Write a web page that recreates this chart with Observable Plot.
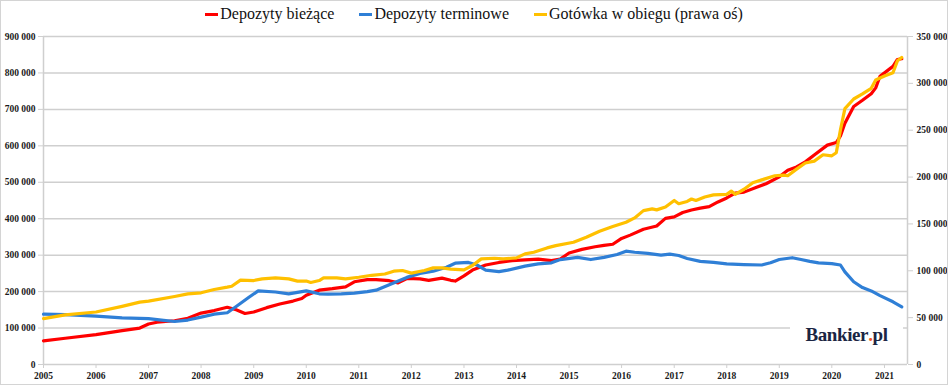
<!DOCTYPE html>
<html><head><meta charset="utf-8">
<script src="https://cdn.jsdelivr.net/npm/d3@7"></script>
<script src="https://cdn.jsdelivr.net/npm/@observablehq/plot@0.6"></script>
<style>
body{margin:0;background:#fff;}
#wrap{position:relative;width:948px;height:385px;overflow:hidden;font-family:"Liberation Serif",serif;background:#fff;}
#frame{position:absolute;left:0;top:0;width:948px;height:385px;box-sizing:border-box;border:1px solid #d4d4d4;pointer-events:none;}
#legend{position:absolute;top:3px;left:0;width:948px;display:flex;justify-content:center;gap:25px;font-size:16px;color:#111;line-height:22px;}
#legend .it{display:flex;align-items:center;}
#legend .sw{display:inline-block;width:13px;height:3px;margin-right:2px;}
#wm{position:absolute;left:790px;top:318px;width:113px;height:34px;background:#fff;display:flex;align-items:center;justify-content:center;font-family:"Liberation Serif",serif;font-weight:bold;font-size:19px;letter-spacing:-0.4px;color:#1b2543;}
#wm span{color:#f05a28;}
svg{position:absolute;left:0;top:0;}
</style></head>
<body>
<div id="wrap">
  <div id="chart"></div>
  <div id="legend"></div>
  <div id="wm">Bankier<span>.</span>pl</div>
  <div id="frame"></div>
</div>
<script>
// ---- data (mln zł) ----
const seriesNames = ["Depozyty bieżące", "Depozyty terminowe", "Gotówka w obiegu (prawa oś)"];
const seriesColors = ["#ff0000", "#2f7fd6", "#ffc000"];

const redMonths = ["2005-01","2005-06","2006-01","2006-07","2006-11","2007-01","2007-03","2007-07","2007-10","2008-01","2008-04","2008-07","2008-09","2008-11","2009-01","2009-04","2009-07","2009-10","2009-12","2010-01","2010-04","2010-07","2010-10","2010-12","2011-03","2011-05","2011-08","2011-10","2011-12","2012-03","2012-05","2012-08","2012-10","2012-11","2013-01","2013-03","2013-06","2013-09","2013-12","2014-03","2014-06","2014-09","2014-11","2015-01","2015-04","2015-07","2015-09","2015-11","2016-01","2016-03","2016-06","2016-09","2016-11","2017-01","2017-03","2017-05","2017-07","2017-09","2017-11","2018-01","2018-03","2018-05","2018-08","2018-10","2019-01","2019-03","2019-05","2019-07","2019-09","2019-12","2020-02","2020-03","2020-04","2020-06","2020-08","2020-10","2020-11","2020-12","2021-03","2021-04","2021-05"];
const redValues = [65000,72000,82000,93000,100000,111000,116000,120000,127000,141000,148000,157000,150000,140000,144000,156000,166000,174000,181000,190000,204000,208000,213000,227000,233000,233000,230000,224000,236000,235000,231000,237000,231000,229000,243000,259000,273000,280000,285000,287000,289000,285000,289000,306000,316000,323000,327000,330000,346000,355000,371000,380000,401000,405000,417000,424000,429000,433000,446000,457000,470000,473000,487000,496000,515000,533000,542000,556000,575000,602000,609000,627000,662000,708000,725000,743000,759000,791000,818000,837000,839000];

const blueMonths = ["2005-01","2005-06","2006-01","2006-07","2007-01","2007-04","2007-07","2007-10","2008-01","2008-04","2008-07","2008-09","2008-12","2009-02","2009-06","2009-09","2010-01","2010-04","2010-06","2010-09","2010-12","2011-03","2011-05","2011-08","2011-12","2012-03","2012-06","2012-09","2012-11","2013-02","2013-04","2013-06","2013-09","2013-11","2014-03","2014-06","2014-09","2014-11","2015-03","2015-06","2015-09","2015-12","2016-02","2016-04","2016-07","2016-10","2016-12","2017-02","2017-04","2017-07","2017-10","2018-01","2018-05","2018-09","2018-11","2019-01","2019-04","2019-06","2019-08","2019-10","2020-01","2020-03","2020-04","2020-06","2020-08","2020-10","2020-12","2021-03","2021-05"];
const blueValues = [138000,137000,133000,128000,126000,122000,118000,122000,130000,138000,142000,159000,185000,202000,199000,194000,202000,194000,193000,194000,196000,200000,204000,219000,239000,250000,256000,267000,278000,280000,273000,259000,255000,259000,270000,276000,279000,288000,294000,288000,294000,302000,311000,308000,305000,300000,303000,299000,291000,283000,280000,276000,274000,273000,279000,288000,293000,288000,283000,279000,277000,273000,254000,227000,211000,202000,189000,172000,158000];

const goldMonths = ["2005-01","2005-06","2006-01","2006-07","2006-11","2007-01","2007-07","2007-10","2008-01","2008-04","2008-07","2008-08","2008-10","2009-01","2009-03","2009-06","2009-09","2009-11","2010-01","2010-02","2010-04","2010-05","2010-08","2010-10","2011-01","2011-04","2011-07","2011-09","2011-11","2012-01","2012-04","2012-06","2012-08","2012-10","2013-01","2013-03","2013-05","2013-08","2013-10","2014-01","2014-03","2014-05","2014-08","2014-10","2015-02","2015-05","2015-08","2015-11","2016-02","2016-04","2016-06","2016-08","2016-09","2016-11","2017-01","2017-02","2017-04","2017-05","2017-06","2017-08","2017-10","2018-01","2018-02","2018-03","2018-05","2018-07","2018-09","2018-12","2019-02","2019-03","2019-05","2019-07","2019-09","2019-11","2020-01","2020-02","2020-03","2020-04","2020-06","2020-08","2020-10","2020-11","2021-01","2021-03","2021-04","2021-05"];
const goldValues = [49000,53000,56000,62000,66500,67600,72600,75400,76500,80000,82500,83500,90000,89600,91400,92400,91400,89000,89000,87500,89600,92400,92400,91400,93100,95200,96600,99600,100300,97500,100300,103100,103100,101700,101000,105600,112700,113400,112700,113800,118000,119800,124400,126800,130500,135800,142200,147200,151800,156400,164200,166000,165000,168000,175000,171600,174000,176600,175000,178700,181000,181600,185000,181600,187000,194000,197000,201400,202000,201400,208500,215000,217000,223800,222700,226000,250400,273000,283300,288700,294700,303500,307800,311300,324000,327700];

const leftTicks = [0,100000,200000,300000,400000,500000,600000,700000,800000,900000];
const rightTicks = [0,50000,100000,150000,200000,250000,300000,350000];
const yearTicks = [2005,2006,2007,2008,2009,2010,2011,2012,2013,2014,2015,2016,2017,2018,2019,2020,2021];

// ---- helpers ----
const k = 900000 / 350000;
const fmt = d => d3.format(",")(d).replace(/,/g, " ");
const parseM = s => { const [y, m] = s.split("-").map(Number); return new Date(Date.UTC(y, m - 1, 1)); };
const rows = (months, values, scale) => months.map((m, i) => ({date: parseM(m), v: values[i] * scale}));
const redData = rows(redMonths, redValues, 1);
const blueData = rows(blueMonths, blueValues, 1);
const goldData = rows(goldMonths, goldValues, k);
const x0 = new Date(Date.UTC(2005, 0, 1)), x1 = new Date(Date.UTC(2021, 5, 10));

const grid = "#cfcfcf";
const chart = Plot.plot({
  width: 948, height: 385,
  marginLeft: 43, marginRight: 41, marginTop: 36, marginBottom: 21,
  style: {fontFamily: "'Liberation Serif', serif", fontSize: "9.5px", fontWeight: "bold", color: "#1a1a1a", background: "transparent"},
  x: {type: "utc", domain: [x0, x1]},
  y: {domain: [0, 900000]},
  marks: [
    Plot.ruleY(leftTicks, {y: d => d, stroke: grid, strokeWidth: 1.5}),
    Plot.ruleX([x0, x1], {stroke: grid, strokeWidth: 1.5}),
    Plot.axisY(leftTicks, {anchor: "left", label: null, tickFormat: fmt, tickSize: 5, tickPadding: 3, stroke: grid, fill: "#1a1a1a"}),
    Plot.axisY(rightTicks.map(v => v * k), {anchor: "right", label: null, tickFormat: d => fmt(Math.round(d / k)), tickSize: 5, tickPadding: 4, stroke: grid, fill: "#1a1a1a"}),
    Plot.axisX(yearTicks.map(y => new Date(Date.UTC(y, 0, 1))), {label: null, tickFormat: d => String(d.getUTCFullYear()), tickSize: 4, tickPadding: 4, stroke: grid, fill: "#1a1a1a"}),
    Plot.line(redData, {x: "date", y: "v", stroke: seriesColors[0], strokeWidth: 3.2}),
    Plot.line(blueData, {x: "date", y: "v", stroke: seriesColors[1], strokeWidth: 3.2}),
    Plot.line(goldData, {x: "date", y: "v", stroke: seriesColors[2], strokeWidth: 3.2})
  ]
});
document.getElementById("chart").appendChild(chart);

const legend = document.getElementById("legend");
seriesNames.forEach((n, i) => {
  const it = document.createElement("div"); it.className = "it";
  const sw = document.createElement("span"); sw.className = "sw"; sw.style.background = seriesColors[i];
  const tx = document.createElement("span"); tx.textContent = n;
  it.appendChild(sw); it.appendChild(tx); legend.appendChild(it);
});
</script>
</body></html>
